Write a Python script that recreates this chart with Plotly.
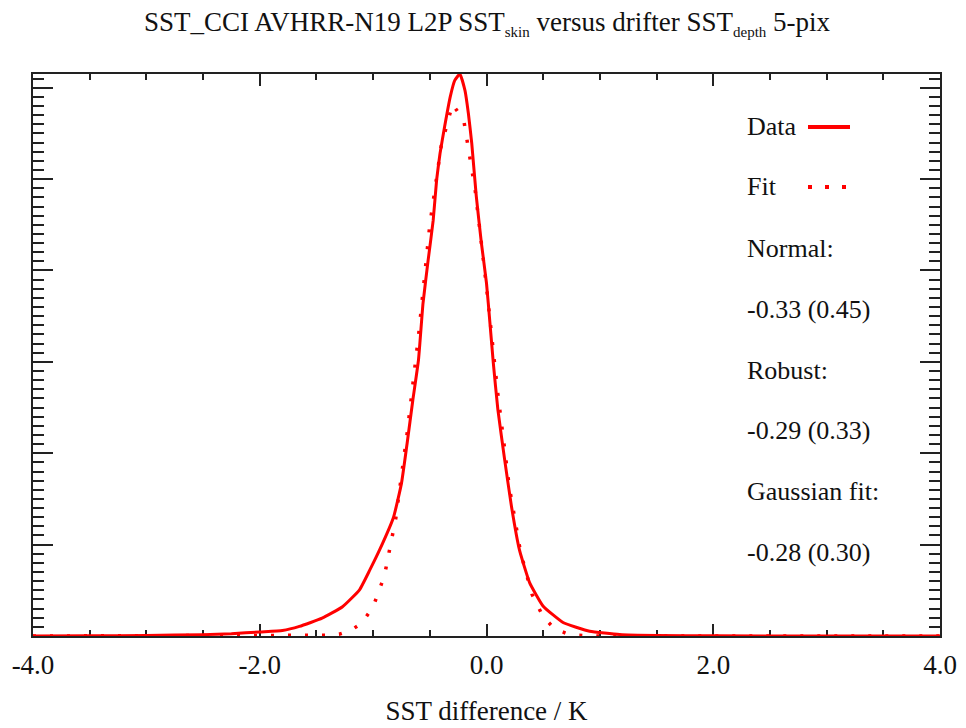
import plotly.graph_objects as go

# ---- data ----
data_x = [-4.0, -3.5, -3.0, -2.5, -2.25, -2.0, -1.8, -1.65, -1.45, -1.27, -1.12, -1.03,
          -0.94, -0.82, -0.75, -0.70, -0.65, -0.60, -0.56, -0.515, -0.47, -0.44, -0.41,
          -0.37, -0.32, -0.28, -0.235, -0.19, -0.16, -0.13, -0.09, -0.045, 0.0, 0.03,
          0.06, 0.10, 0.16, 0.22, 0.29, 0.38, 0.50, 0.675, 0.91, 1.175, 1.5, 2.0, 3.0, 4.0]
data_y = [0.00000, 0.00002, 0.00006, 0.00015, 0.00025, 0.00045, 0.00060, 0.00105, 0.00195,
          0.00320, 0.00505, 0.00720, 0.00950, 0.01300, 0.01670, 0.02110, 0.02580, 0.03020,
          0.03640, 0.04110, 0.04550, 0.04990, 0.05280, 0.05570, 0.05900, 0.06080, 0.06150,
          0.05970, 0.05720, 0.05390, 0.04810, 0.04300, 0.03860, 0.03430, 0.02990, 0.02480,
          0.01930, 0.01420, 0.00945, 0.00585, 0.00326, 0.00148, 0.00052, 0.00016, 0.00005,
          0.00002, 0.00000, 0.00000]

fit_x = [-4.0, -3.0, -2.0, -1.6, -1.5, -1.4, -1.3, -1.2, -1.1, -1.0, -0.9, -0.8, -0.7, -0.6,
         -0.5, -0.4, -0.3, -0.2, -0.1, 0.0, 0.1, 0.2, 0.3, 0.4, 0.5, 0.6, 0.7, 0.8, 0.9, 1.0,
         2.0, 3.0, 4.0]
fit_y = [0.0, 0.0, 0.0, 0.0, 0.00002, 0.00008, 0.0002, 0.0006, 0.0014, 0.0032, 0.0066, 0.0129,
         0.0222, 0.0328, 0.0450, 0.0536, 0.0582, 0.0564, 0.0488, 0.0382, 0.0265, 0.0164,
         0.0092, 0.0046, 0.0021, 0.0008, 0.0003, 0.0001, 0.00002, 0.0, 0.0, 0.0, 0.0]

x_ticks = [-4.0, -2.0, 0.0, 2.0, 4.0]
x_tick_labels = ["-4.0", "-2.0", "0.0", "2.0", "4.0"]

legend_lines = ["Data", "Fit", "Normal:", "-0.33 (0.45)", "Robust:", "-0.29 (0.33)",
                "Gaussian fit:", "-0.28 (0.30)"]

title = ("SST_CCI AVHRR-N19 L2P SST<sub><span style='font-size:15px'>skin</span></sub>"
         " versus drifter SST<sub><span style='font-size:15px'>depth</span></sub> 5-pix")

# ---- layout geometry (pixels, in reference-image coordinates) ----
OFF = 8  # page body margin
W, H = 966 - OFF, 728 - OFF
L, R, T, B = 33 - OFF, 940 - OFF, 74 - OFF, 636.5 - OFF
FONT = "Liberation Serif"
RED = "#ff0000"
INK = "#111"


def px_x(p):
    return (p - OFF - L) / (R - L)


def px_y(p):
    return (B - (p - OFF)) / (B - T)


fig = go.Figure()
fig.add_trace(go.Scatter(x=data_x, y=data_y, mode="lines",
                         line=dict(color=RED, width=3, shape="spline", smoothing=0.4),
                         showlegend=False, hoverinfo="skip"))
fig.add_trace(go.Scatter(x=fit_x, y=fit_y, mode="lines",
                         line=dict(color=RED, width=3.5, dash="3px,14px"),
                         showlegend=False, hoverinfo="skip"))

axis_common = dict(showline=True, linecolor="#222", linewidth=2, mirror="allticks",
                   ticks="inside", tickcolor="#222", tickwidth=2, showgrid=False,
                   zeroline=False, layer="below traces", automargin=False)

fig.update_xaxes(range=[-4, 4], tickvals=x_ticks, ticktext=x_tick_labels, ticklen=12,
                 ticklabelstandoff=4,
                 minor=dict(dtick=0.5, ticklen=6, tickwidth=1.5, tickcolor="#222", ticks="inside"),
                 tickfont=dict(family=FONT, size=27, color=INK),
                 title=dict(text="SST difference / K", font=dict(family=FONT, size=27, color=INK),
                            standoff=22),
                 **axis_common)
fig.update_yaxes(range=[0, 0.0615], dtick=0.01, tick0=0, ticklen=20, showticklabels=False,
                 minor=dict(dtick=0.001, ticklen=11, tickwidth=2, tickcolor="#222", ticks="inside"),
                 **axis_common)

anns = []
rows_y = [127, 187, 249, 310, 371, 431, 492, 553]
for txt, yy in zip(legend_lines, rows_y):
    anns.append(dict(text=txt, x=px_x(745), y=px_y(yy), xref="paper", yref="paper",
                     xanchor="left", yanchor="middle", showarrow=False,
                     font=dict(family=FONT, size=26, color=INK)))

shapes = [
    dict(type="line", xref="paper", yref="paper", x0=px_x(808), x1=px_x(850),
         y0=px_y(127), y1=px_y(127), line=dict(color=RED, width=4)),
    dict(type="line", xref="paper", yref="paper", x0=px_x(808), x1=px_x(852),
         y0=px_y(187), y1=px_y(187), line=dict(color=RED, width=4, dash="4px,13px")),
]

fig.update_layout(
    width=W, height=H,
    margin=dict(l=L, r=W - R, t=T, b=H - B),
    paper_bgcolor="white", plot_bgcolor="white",
    title=dict(text=title, x=0.5, xanchor="center", y=1 - (22 - OFF) / H, yanchor="middle",
               font=dict(family=FONT, size=27, color=INK)),
    annotations=anns, shapes=shapes,
)

fig.write_html("out.html")
